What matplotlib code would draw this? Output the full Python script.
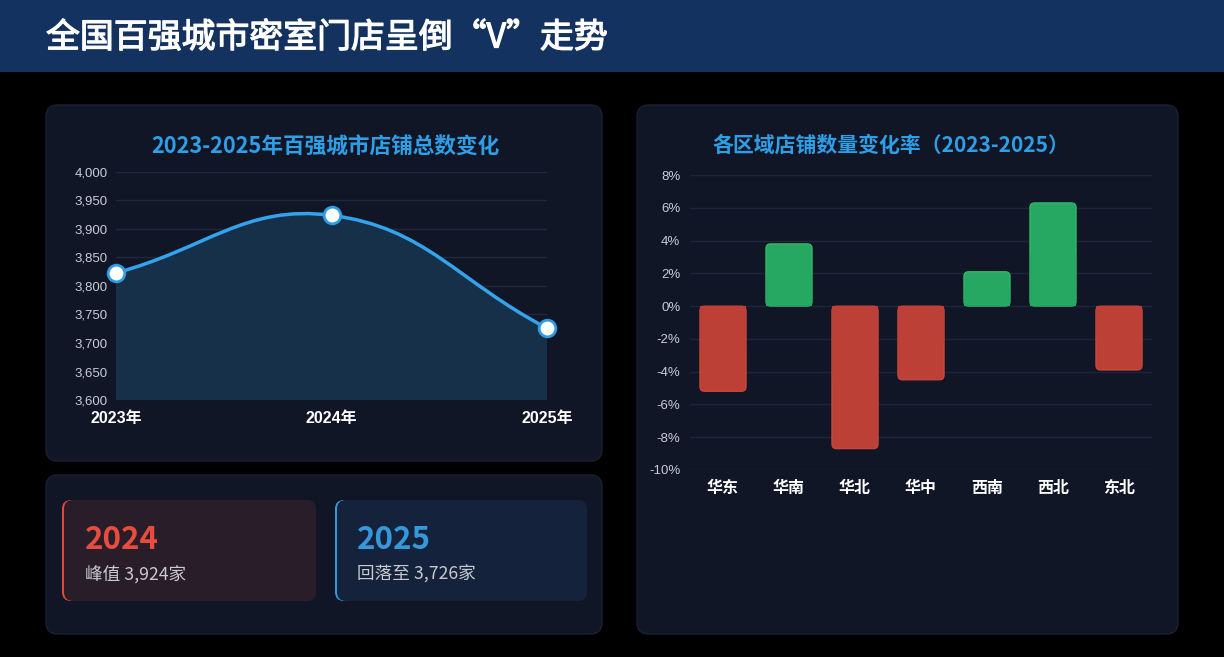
import matplotlib
matplotlib.use("Agg")
import matplotlib.pyplot as plt
from matplotlib.patches import FancyBboxPatch, Rectangle
from matplotlib.path import Path
from matplotlib.patches import PathPatch
import matplotlib.patheffects as pe
import matplotlib.ticker as mticker

plt.rcParams['font.family'] = ['Noto Sans CJK SC', 'DejaVu Sans']

# ---------------- data ----------------
years = ["2023年", "2024年", "2025年"]
totals = [3823, 3924, 3726]
y_ticks = [3600, 3650, 3700, 3750, 3800, 3850, 3900, 3950, 4000]

regions = ["华东", "华南", "华北", "华中", "西南", "西北", "东北"]
rates = [-5.2, 3.8, -8.7, -4.5, 2.1, 6.3, -3.9]
rate_ticks = [-10, -8, -6, -4, -2, 0, 2, 4, 6, 8]

title = "全国百强城市密室门店呈倒“V”走势"
line_title = "2023-2025年百强城市店铺总数变化"
bar_title = "各区域店铺数量变化率（2023-2025）"
card1_year, card1_text = "2024", "峰值 3,924家"
card2_year, card2_text = "2025", "回落至 3,726家"

W, H = 1224, 657
fig = plt.figure(figsize=(W / 100, H / 100), dpi=100, facecolor="#000000")

# background axes in pixel coordinates
bg = fig.add_axes([0, 0, 1, 1], zorder=-5)
bg.set_xlim(0, W)
bg.set_ylim(H, 0)
bg.axis("off")
bg.set_facecolor("#000000")
bg.add_patch(Rectangle((0, 0), W, 72, facecolor="#14325F", edgecolor="none"))
bg.text(46, 38, title, color="white", fontsize=24.4, fontweight="normal",
        va="center", ha="left", family=['Noto Sans CJK SC', 'DejaVu Sans'],
        path_effects=[pe.withStroke(linewidth=0.9, foreground="white")])


def rbox(x0, y0, x1, y1, r, fc, ec="none", lw=0):
    p = FancyBboxPatch((x0 + r, y0 + r), (x1 - x0) - 2 * r, (y1 - y0) - 2 * r,
                       boxstyle=f"round,pad={r},rounding_size={r}",
                       facecolor=fc, edgecolor=ec, linewidth=lw)
    bg.add_patch(p)


panel_fc = "#111627"
panel_ec = "#1B2134"
rbox(46, 105, 602, 461, 12, panel_fc, panel_ec, 1)
rbox(46, 475, 602, 634, 12, panel_fc, panel_ec, 1)
rbox(637, 105, 1178, 634, 12, panel_fc, panel_ec, 1)

# cards
rbox(62, 500, 200, 601, 9, "#E04A3A")
rbox(64, 500, 316, 601, 9, "#2A1D2A")
rbox(335, 500, 470, 601, 9, "#3498DB")
rbox(337, 500, 587, 601, 9, "#14233B")
bg.text(85, 540, card1_year, color="#E74C3C", fontsize=22.5, fontweight="bold",
        va="center", ha="left")
bg.text(85, 575, card1_text, color="#C9C9D2", fontsize=12.7, va="center", ha="left")
bg.text(357, 540, card2_year, color="#3498DB", fontsize=22.5, fontweight="bold",
        va="center", ha="left")
bg.text(357, 575, card2_text, color="#C9C9D2", fontsize=12.7, va="center", ha="left")

# titles
bg.text(325, 147, line_title, color="#2E9FE6", fontsize=15.6, fontweight="bold",
        va="center", ha="center")
bg.text(891, 145, bar_title, color="#2E9FE6", fontsize=15, fontweight="bold",
        va="center", ha="center")

# ---------------- line chart ----------------
ax1 = fig.add_axes([116 / W, 1 - 400 / H, 431 / W, 228 / H])
ax1.set_facecolor("none")
ax1.set_xlim(0, len(years) - 1)
ax1.set_ylim(y_ticks[0], y_ticks[-1])
ax1.set_yticks(y_ticks)
ax1.yaxis.set_major_formatter(mticker.FuncFormatter(lambda v, p: f"{int(v):,}"))
ax1.set_xticks(range(len(years)))
ax1.set_xticklabels(years)
for s in ax1.spines.values():
    s.set_visible(False)
ax1.tick_params(axis="y", length=0, pad=6, labelsize=9.5, labelcolor="#C8CCD6")
ax1.tick_params(axis="x", length=0, pad=8, labelsize=11.5, labelcolor="white")
for lab in ax1.get_yticklabels():
    lab.set_family(['Liberation Sans', 'DejaVu Sans'])
for lab in ax1.get_xticklabels():
    lab.set_family(['Liberation Sans', 'Noto Sans CJK SC'])
    lab.set_fontweight("bold")
ax1.grid(axis="y", color="#20293B", linewidth=1)
ax1.set_axisbelow(True)

# ECharts-like smoothing (computed in pixel space)
xs = list(range(len(totals)))
pts = [ax1.transData.transform((x, y)) for x, y in zip(xs, totals)]
smooth = 0.42
n = len(pts)
cps = []
for i in range(n):
    prev = pts[i - 1] if i > 0 else pts[i]
    nxt = pts[i + 1] if i < n - 1 else pts[i]
    vx = (nxt[0] - prev[0]) * smooth
    vy = (nxt[1] - prev[1]) * smooth
    lp = ((pts[i][0] - prev[0]) ** 2 + (pts[i][1] - prev[1]) ** 2) ** 0.5
    ln = ((nxt[0] - pts[i][0]) ** 2 + (nxt[1] - pts[i][1]) ** 2) ** 0.5
    tot = lp + ln
    rn = ln / tot if tot else 0.5
    cin = (pts[i][0] - vx * (1 - rn), pts[i][1] - vy * (1 - rn))
    cout = (pts[i][0] + vx * rn, pts[i][1] + vy * rn)
    cps.append((cin, cout))
inv = ax1.transData.inverted()
verts = [tuple(inv.transform(pts[0]))]
codes = [Path.MOVETO]
for i in range(n - 1):
    verts += [tuple(inv.transform(cps[i][1])), tuple(inv.transform(cps[i + 1][0])),
              tuple(inv.transform(pts[i + 1]))]
    codes += [Path.CURVE4] * 3
line_path = Path(verts, codes)
fill_verts = verts + [(xs[-1], y_ticks[0]), (xs[0], y_ticks[0]), verts[0]]
fill_codes = codes + [Path.LINETO, Path.LINETO, Path.CLOSEPOLY]
ax1.add_patch(PathPatch(Path(fill_verts, fill_codes), facecolor="#17304A",
                        edgecolor="none", zorder=1))
ax1.add_patch(PathPatch(line_path, facecolor="none", edgecolor="#33A3EC",
                        linewidth=2.5, zorder=3))
ax1.plot(xs, totals, linestyle="none", marker="o", markersize=12,
         markerfacecolor="white", markeredgecolor="#2E9BE4", markeredgewidth=2,
         zorder=4, clip_on=False)

# ---------------- bar chart ----------------
ax2 = fig.add_axes([690 / W, 1 - 470 / H, 462 / W, 295 / H])
ax2.set_facecolor("none")
ax2.set_xlim(-0.5, len(regions) - 0.5)
ax2.set_ylim(rate_ticks[0], rate_ticks[-1])
ax2.set_yticks(rate_ticks)
ax2.yaxis.set_major_formatter(mticker.FuncFormatter(lambda v, p: f"{int(v)}%"))
ax2.set_xticks(range(len(regions)))
ax2.set_xticklabels(regions)
for s in ax2.spines.values():
    s.set_visible(False)
ax2.tick_params(axis="y", length=0, pad=7, labelsize=9.5, labelcolor="#C8CCD6")
ax2.tick_params(axis="x", length=0, pad=7, labelsize=11.5, labelcolor="white")
for lab in ax2.get_yticklabels():
    lab.set_family(['Liberation Sans', 'DejaVu Sans'])
for lab in ax2.get_xticklabels():
    lab.set_fontweight("bold")
ax2.grid(axis="y", color="#1F2537", linewidth=1)
ax2.set_axisbelow(True)

bw = 0.7
r_x = 0.07
aspect = (18 / 295) / (7 / 462)
for i, v in enumerate(rates):
    fc = "#27A862" if v >= 0 else "#BD4037"
    ec = "#2FBF6E" if v >= 0 else "#D04A3E"
    y0 = min(0, v)
    h = abs(v)
    ry = r_x * aspect
    p = FancyBboxPatch((i - bw / 2 + r_x, y0 + ry), bw - 2 * r_x, h - 2 * ry,
                       boxstyle=f"round,pad={r_x},rounding_size={r_x}",
                       mutation_aspect=aspect, facecolor=fc, edgecolor=ec,
                       linewidth=0.8, zorder=2)
    ax2.add_patch(p)
    # square end at the zero line
    ax2.bar(i, v / 2, width=bw, color=fc, edgecolor="none", zorder=2.5)

fig.savefig("out.png", dpi=100, facecolor=fig.get_facecolor())
